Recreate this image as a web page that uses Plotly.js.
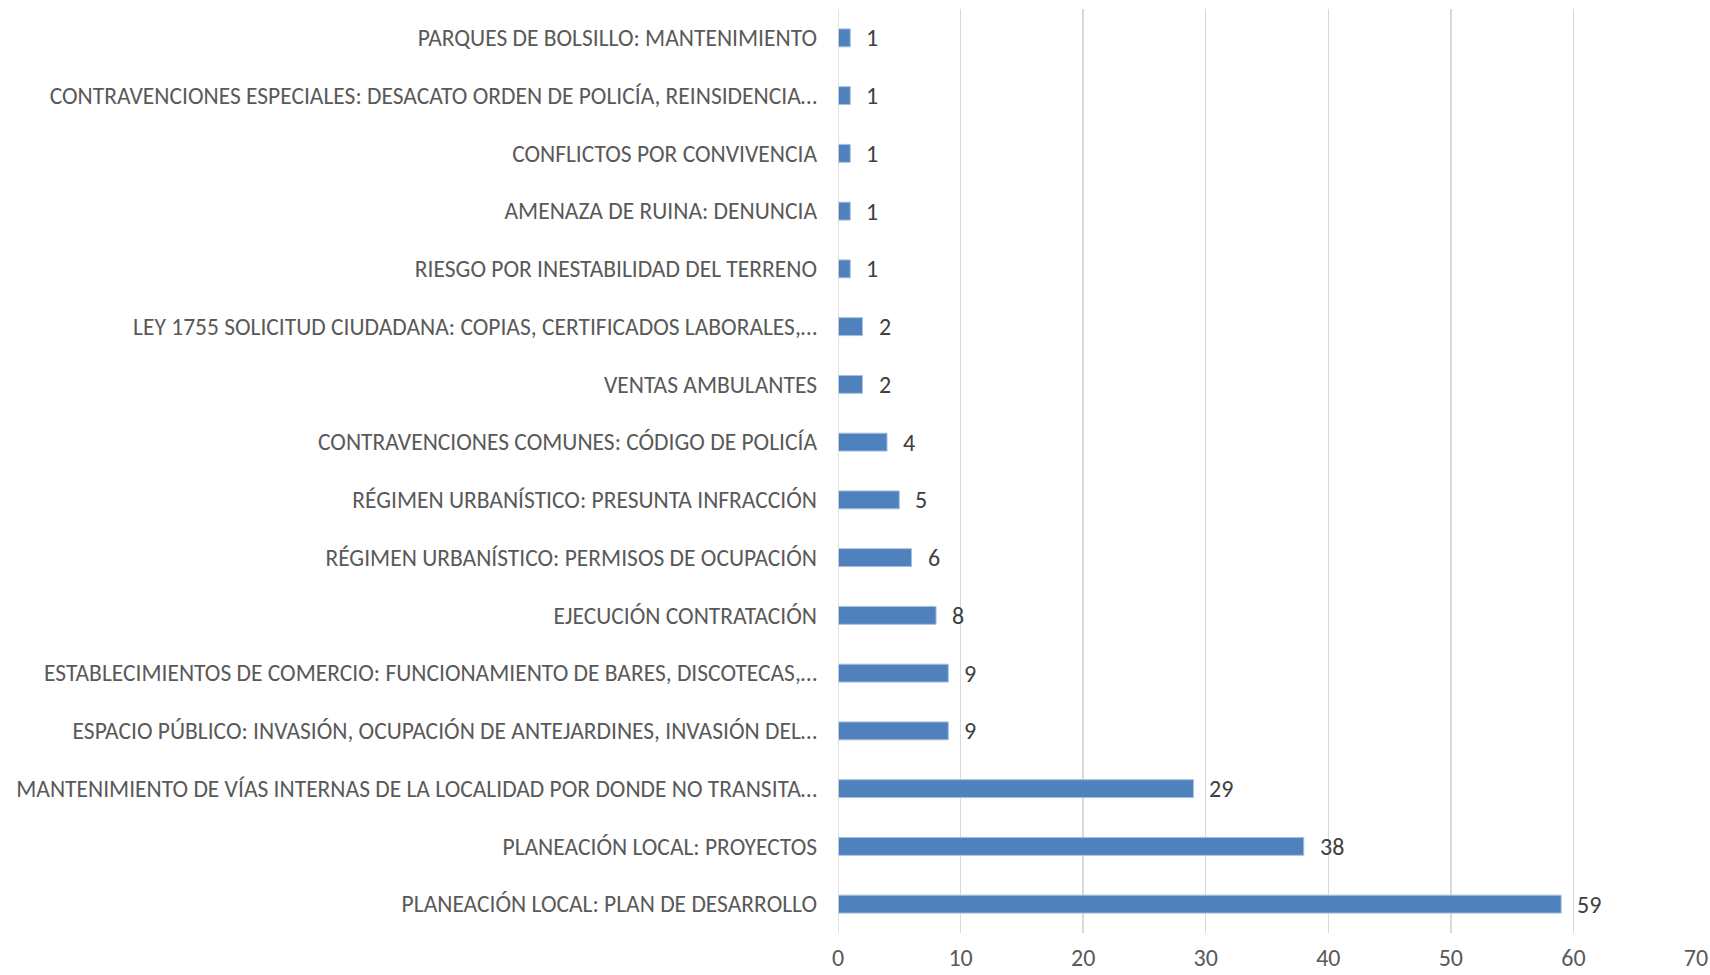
<!DOCTYPE html>
<html>
<head>
<meta charset="utf-8">
<script src="https://cdn.plot.ly/plotly-3.0.1.min.js"></script>
<style>html,body{margin:0;padding:0;background:#fff;}#chart{width:1710px;height:975px;}</style>
</head>
<body>
<div id="chart"></div>
<script>
const categories = [
  "PARQUES DE BOLSILLO: MANTENIMIENTO",
  "CONTRAVENCIONES ESPECIALES: DESACATO ORDEN DE POLICÍA, REINSIDENCIA…",
  "CONFLICTOS POR CONVIVENCIA",
  "AMENAZA DE RUINA: DENUNCIA",
  "RIESGO POR INESTABILIDAD DEL TERRENO",
  "LEY 1755 SOLICITUD CIUDADANA: COPIAS, CERTIFICADOS LABORALES,…",
  "VENTAS AMBULANTES",
  "CONTRAVENCIONES COMUNES: CÓDIGO DE POLICÍA",
  "RÉGIMEN URBANÍSTICO: PRESUNTA INFRACCIÓN",
  "RÉGIMEN URBANÍSTICO: PERMISOS DE OCUPACIÓN",
  "EJECUCIÓN CONTRATACIÓN",
  "ESTABLECIMIENTOS DE COMERCIO: FUNCIONAMIENTO DE BARES, DISCOTECAS,…",
  "ESPACIO PÚBLICO: INVASIÓN, OCUPACIÓN DE ANTEJARDINES, INVASIÓN DEL…",
  "MANTENIMIENTO DE VÍAS INTERNAS DE LA LOCALIDAD POR DONDE NO TRANSITA…",
  "PLANEACIÓN LOCAL: PROYECTOS",
  "PLANEACIÓN LOCAL: PLAN DE DESARROLLO"
];
const values = [1, 1, 1, 1, 1, 2, 2, 4, 5, 6, 8, 9, 9, 29, 38, 59];
const xTicks = [0, 10, 20, 30, 40, 50, 60, 70];

const FONT = "Carlito, Calibri, 'Liberation Sans Narrow', 'DejaVu Sans Condensed', sans-serif";

const trace = {
  type: "bar",
  orientation: "h",
  y: categories,
  x: values,
  marker: { color: "#4F81BD", line: { color: "#A9C0DE", width: 1 } },
  hoverinfo: "none"
};

const annotations = values.map((v, i) => ({
  x: v, y: categories[i], xref: "x", yref: "y",
  text: String(v), showarrow: false, xanchor: "left", xshift: 14,
  font: { family: FONT, size: 24, color: "#404040" }
}));

const layout = {
  width: 1710, height: 975,
  margin: { l: 838, r: 14, t: 9, b: 42 },
  paper_bgcolor: "#ffffff", plot_bgcolor: "#ffffff",
  showlegend: false,
  bargap: 0.69,
  font: { family: FONT, size: 23.5, color: "#595959" },
  xaxis: {
    range: [0, 70], tickvals: xTicks, ticktext: xTicks.map(String),
    showgrid: true, gridcolor: "#D9D9D9", gridwidth: 1.5,
    zeroline: false, showline: false, ticks: "",
    tickfont: { family: FONT, size: 24, color: "#595959" },
    ticklabelstandoff: 8, fixedrange: true
  },
  yaxis: {
    type: "category", autorange: "reversed",
    showgrid: false, zeroline: false,
    showline: false, ticks: "",
    tickfont: { family: FONT, size: 23.5, color: "#595959" },
    ticklabelstandoff: 20, automargin: false, fixedrange: true
  },
  shapes: [{
    type: "line", xref: "x", yref: "paper", x0: 0, x1: 0, y0: 0, y1: 1,
    line: { color: "#D9D9D9", width: 1.5 }
  }],
  annotations: annotations
};

Plotly.newPlot("chart", [trace], layout, { displayModeBar: false, staticPlot: true });
</script>
</body>
</html>
